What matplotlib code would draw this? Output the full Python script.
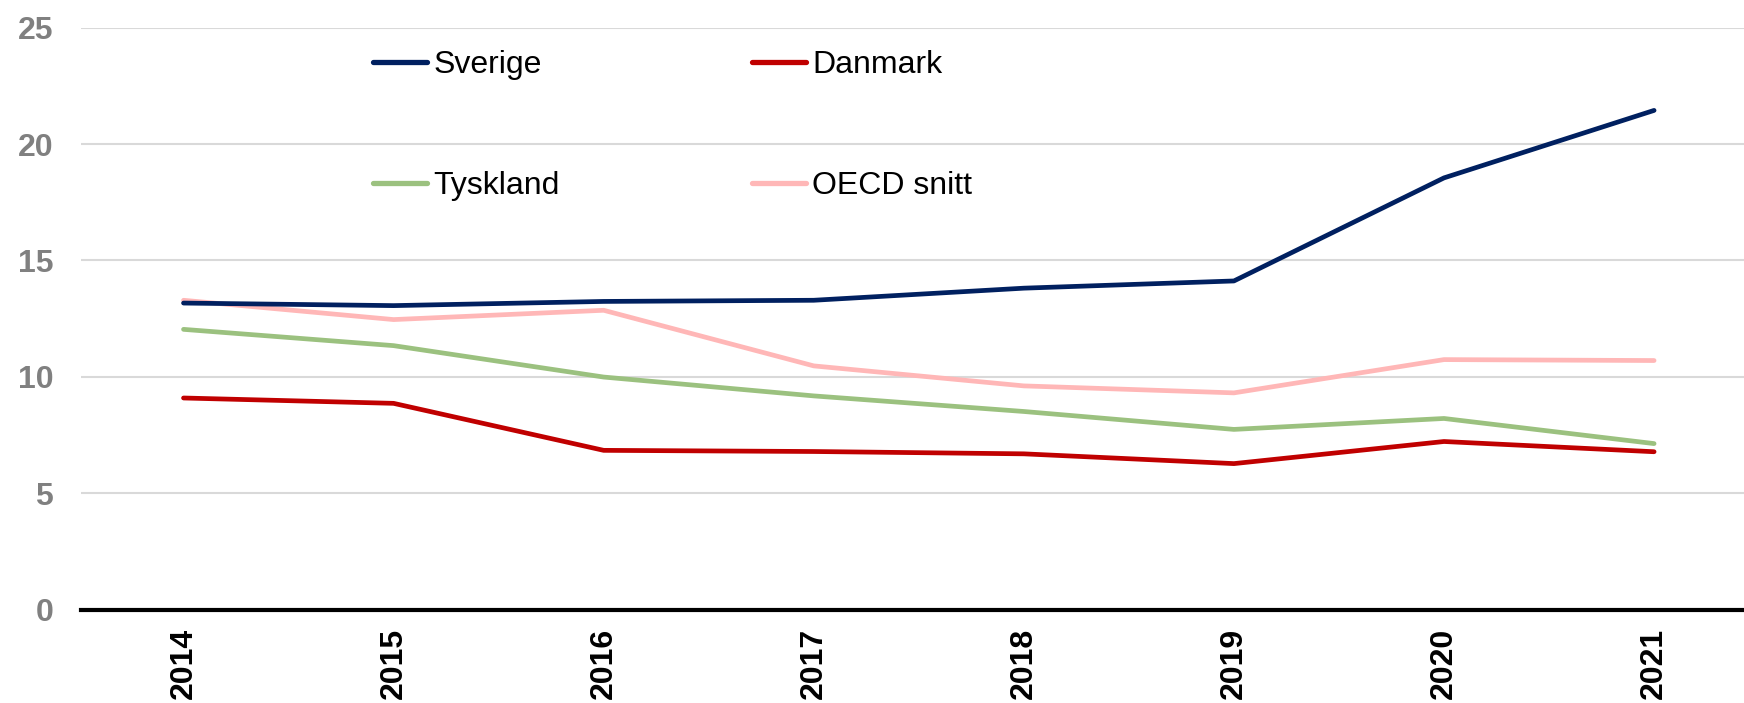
import matplotlib.pyplot as plt
import numpy as np

# Data
years = ["2014", "2015", "2016", "2017", "2018", "2019", "2020", "2021"]
sverige = [13.17, 13.06, 13.24, 13.29, 13.81, 14.12, 18.55, 21.45]
danmark = [9.09, 8.86, 6.84, 6.79, 6.69, 6.27, 7.22, 6.78]
tyskland = [12.04, 11.34, 9.99, 9.18, 8.51, 7.74, 8.21, 7.13]
oecd = [13.29, 12.46, 12.86, 10.47, 9.61, 9.31, 10.74, 10.70]

plt.rcParams["font.family"] = ["Liberation Sans", "DejaVu Sans"]

W, H = 1744, 703
fig = plt.figure(figsize=(W / 100, H / 100), dpi=100)
ax = fig.add_axes([81 / W, (H - 609.5) / H, (W - 81) / W, (609.5 - 27.8) / H])

x = np.arange(len(years))
lw = 3.4
l1, = ax.plot(x, sverige, color="#002060", lw=lw, solid_capstyle="round", label="Sverige", zorder=4)
l2, = ax.plot(x, danmark, color="#C00000", lw=lw, solid_capstyle="round", label="Danmark", zorder=3)
l3, = ax.plot(x, tyskland, color="#9BC17F", lw=lw, solid_capstyle="round", label="Tyskland", zorder=3)
l4, = ax.plot(x, oecd, color="#FFB7B7", lw=lw, solid_capstyle="round", label="OECD snitt", zorder=3)

ax.set_xlim(-0.488, 7.428)
ax.set_ylim(0, 25)
ax.set_yticks([0, 5, 10, 15, 20, 25])
ax.set_xticks(x)
ax.set_xticklabels(years, rotation=90, fontsize=23, fontweight="bold", color="black")
ax.tick_params(axis="y", labelsize=23, labelcolor="#808080", length=0, pad=20)
ax.tick_params(axis="x", length=0, pad=13)
for lab in ax.get_yticklabels():
    lab.set_fontweight("bold")

ax.grid(axis="y", color="#D9D9D9", lw=1.5)
ax.set_axisbelow(True)
for s in ["top", "right", "left"]:
    ax.spines[s].set_visible(False)
ax.spines["bottom"].set_color("black")
ax.spines["bottom"].set_linewidth(3.0)
ax.spines["bottom"].set_zorder(5)

leg = ax.legend(handles=[l1, l3, l2, l4], ncol=2, loc="upper left",
                bbox_to_anchor=(373 / W, (H - 50) / H), bbox_transform=fig.transFigure,
                frameon=False, fontsize=23, handlelength=1.7, handletextpad=0.2,
                columnspacing=6.0, labelspacing=2.85, borderpad=0, borderaxespad=0)
for line in leg.get_lines():
    line.set_linewidth(3.8)

fig.savefig("out.png", dpi=100)
